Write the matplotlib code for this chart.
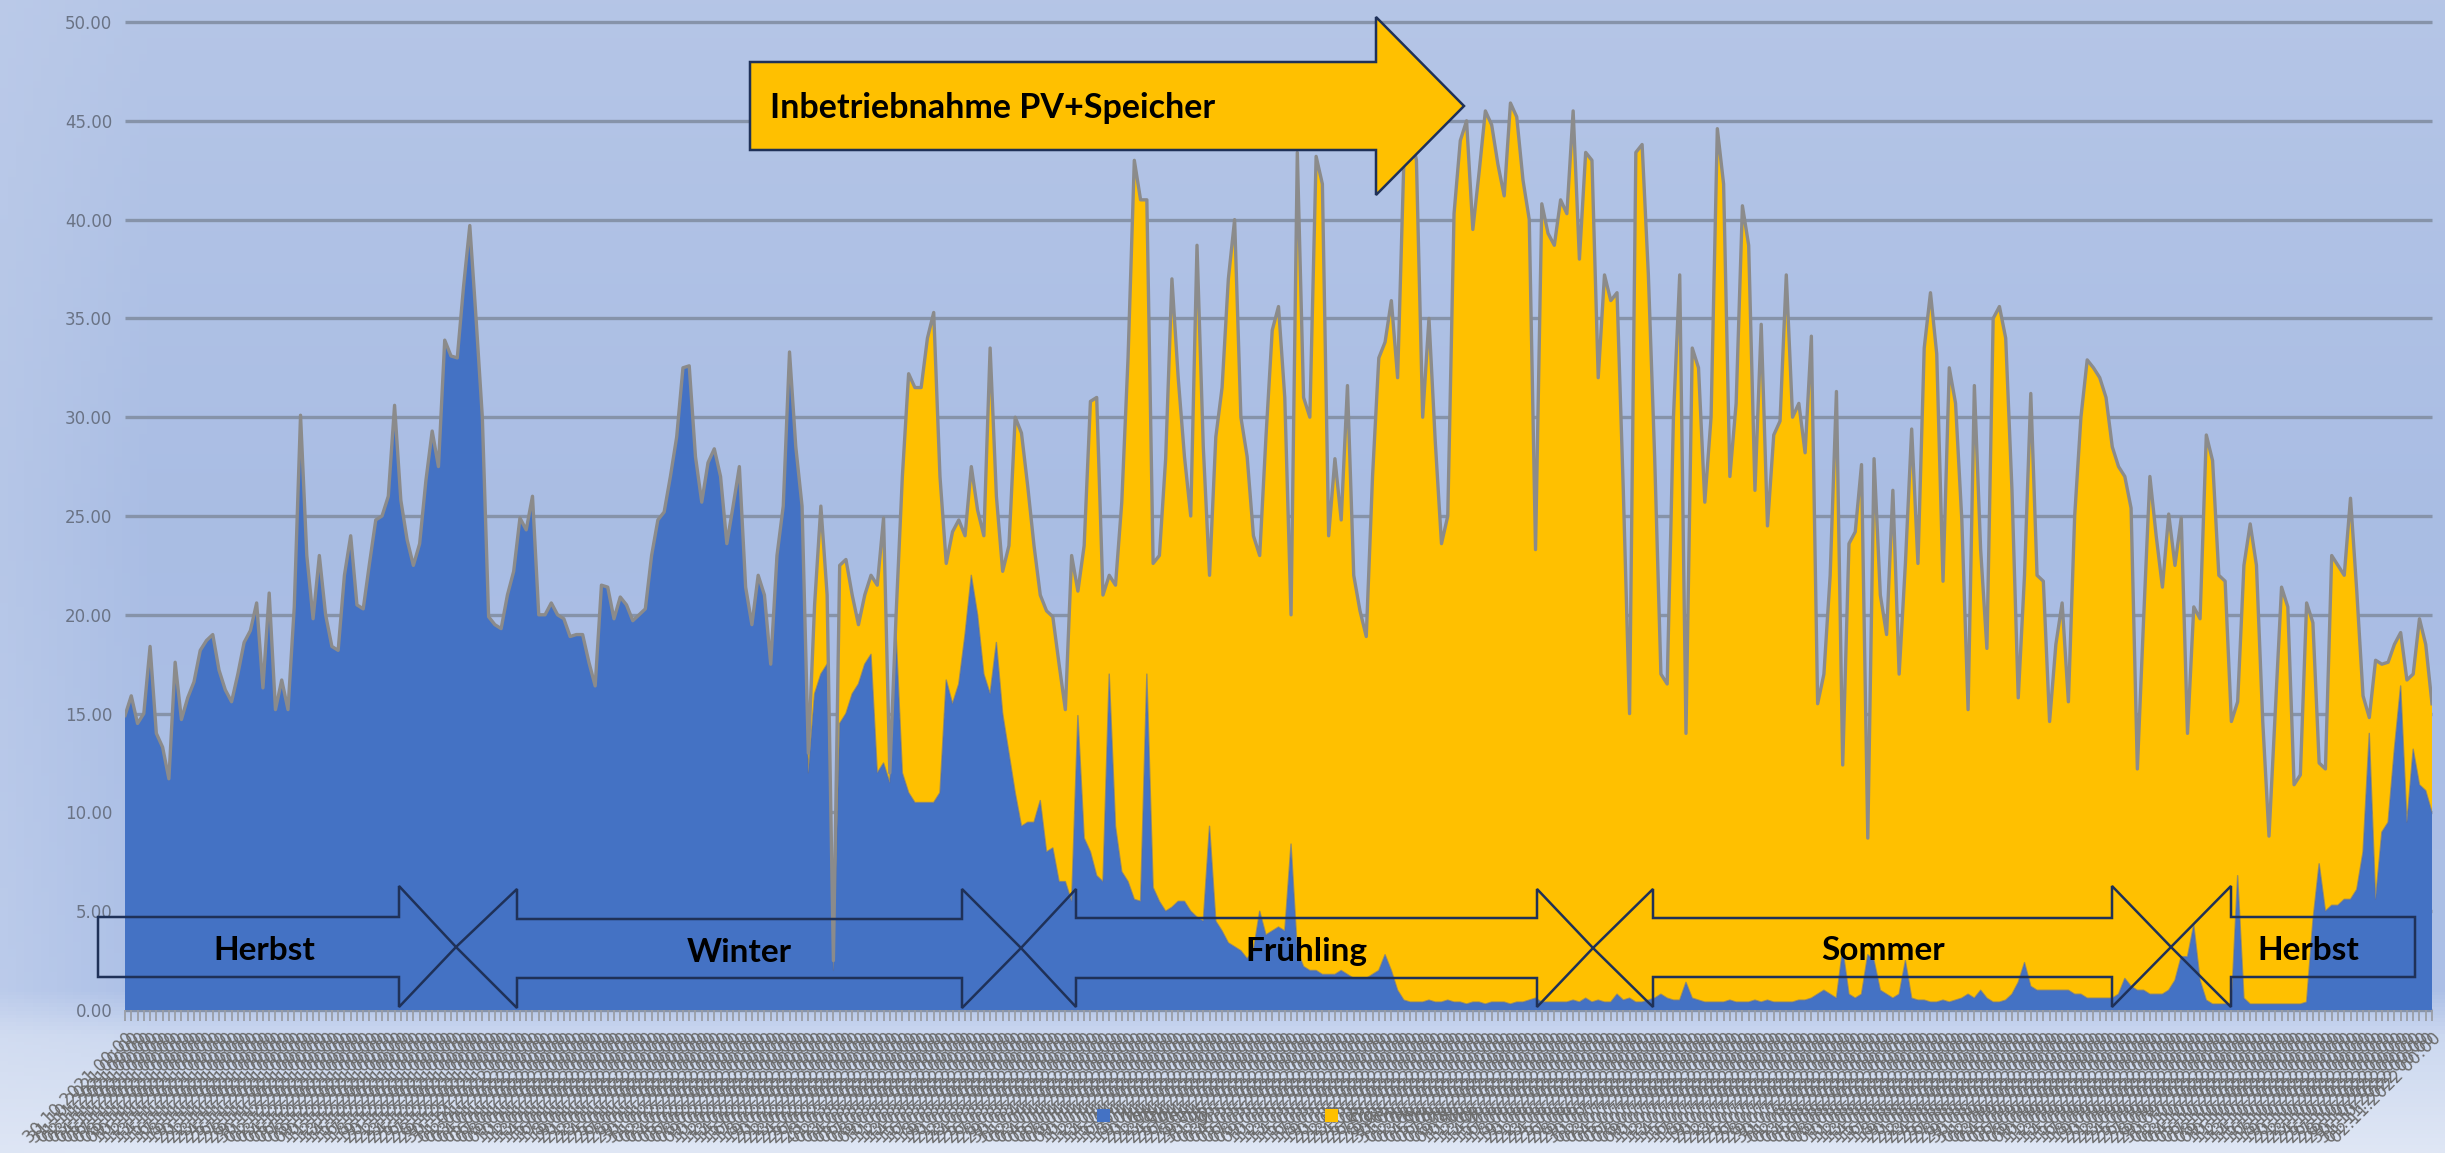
import numpy as np
import matplotlib
matplotlib.use("Agg")
import matplotlib.pyplot as plt
from matplotlib.patches import Polygon, Patch
import pandas as pd

# ---------------- data (daily values) ----------------
# total daily consumption (top outline = Netzbezug + PV)
gesamt = [
    14.9, 15.9, 14.5, 15.0, 18.4, 14.0, 13.3, 11.7, 17.6, 14.7,
    15.8, 16.6, 18.2, 18.7, 19.0, 17.2, 16.2, 15.6, 17.0, 18.6,
    19.2, 20.6, 16.3, 21.1, 15.2, 16.7, 15.2, 20.4, 30.1, 23.0,
    19.8, 23.0, 20.0, 18.4, 18.2, 22.0, 24.0, 20.5, 20.3, 22.6,
    24.8, 25.0, 26.0, 30.6, 25.8, 23.8, 22.5, 23.6, 26.8, 29.3,
    27.5, 33.9, 33.1, 33.0, 36.6, 39.7, 35.0, 30.0, 19.9, 19.5,
    19.3, 21.0, 22.2, 24.9, 24.3, 26.0, 20.0, 20.0, 20.6, 20.0,
    19.8, 18.9, 19.0, 19.0, 17.6, 16.4, 21.5, 21.4, 19.8, 20.9,
    20.5, 19.7, 20.0, 20.3, 23.0, 24.8, 25.2, 27.0, 29.0, 32.5,
    32.6, 28.0, 25.7, 27.7, 28.4, 27.0, 23.6, 25.5, 27.5, 21.4,
    19.5, 22.0, 21.0, 17.5, 23.0, 25.5, 33.3, 28.5, 25.5, 13.0,
    20.5, 25.5, 21.0, 2.5, 22.5, 22.8, 21.0, 19.5, 21.0, 22.0,
    21.5, 24.9, 12.0, 20.0, 27.0, 32.2, 31.5, 31.5, 34.0, 35.3,
    27.0, 22.6, 24.2, 24.8, 24.0, 27.5, 25.3, 24.0, 33.5, 26.0,
    22.2, 23.5, 30.0, 29.2, 26.5, 23.5, 21.0, 20.2, 19.9, 17.5,
    15.2, 23.0, 21.2, 23.5, 30.8, 31.0, 21.0, 22.0, 21.5, 25.7,
    33.0, 43.0, 41.0, 41.0, 22.6, 23.0, 27.9, 37.0, 32.0, 28.0,
    25.0, 38.7, 28.5, 22.0, 29.0, 31.5, 37.0, 40.0, 30.0, 28.0,
    24.0, 23.0, 29.0, 34.4, 35.6, 31.0, 20.0, 43.4, 31.0, 30.0,
    43.2, 41.8, 24.0, 27.9, 24.8, 31.6, 22.0, 20.2, 18.9, 27.0,
    33.0, 33.8, 35.9, 32.0, 43.0, 44.6, 43.0, 30.0, 35.0, 28.8,
    23.6, 25.0, 40.3, 44.0, 45.0, 39.5, 42.4, 45.5, 44.8, 42.8,
    41.2, 45.9, 45.2, 42.0, 40.0, 23.3, 40.8, 39.3, 38.7, 41.0,
    40.3, 45.5, 38.0, 43.4, 43.0, 32.0, 37.2, 35.9, 36.3, 26.3,
    15.0, 43.4, 43.8, 37.2, 28.0, 17.0, 16.5, 30.0, 37.2, 14.0,
    33.5, 32.5, 25.7, 30.0, 44.6, 41.8, 27.0, 30.7, 40.7, 38.7,
    26.3, 34.7, 24.5, 29.1, 29.8, 37.2, 30.0, 30.7, 28.2, 34.1,
    15.5, 17.0, 22.0, 31.3, 12.4, 23.6, 24.2, 27.6, 8.7, 27.9,
    21.0, 19.0, 26.3, 17.0, 22.6, 29.4, 22.6, 33.5, 36.3, 33.2,
    21.7, 32.5, 30.7, 24.8, 15.2, 31.6, 23.3, 18.3, 35.0, 35.6,
    34.0, 26.3, 15.8, 22.0, 31.2, 22.0, 21.7, 14.6, 18.5, 20.6,
    15.6, 25.0, 30.0, 32.9, 32.5, 32.0, 31.0, 28.5, 27.5, 27.0,
    25.4, 12.2, 19.8, 27.0, 24.0, 21.4, 25.1, 22.5, 24.9, 14.0,
    20.4, 19.8, 29.1, 27.8, 22.0, 21.7, 14.6, 15.6, 22.5, 24.6,
    22.5, 14.6, 8.8, 15.1, 21.4, 20.4, 11.4, 11.9, 20.6, 19.6,
    12.5, 12.2, 23.0, 22.5, 22.0, 25.9, 21.2, 15.9, 14.8, 17.7,
    17.5, 17.6, 18.5, 19.1, 16.7, 17.0, 19.8, 18.5, 15.5,
]

# grid consumption after commissioning of PV (day 109 onward)
netz_nach_pv = [
    12.0, 16.0, 17.0, 17.5, 2.0, 14.5, 15.0, 16.0, 16.5, 17.5, 18.0,
    12.0, 12.5, 11.5, 19.0, 12.0, 11.0, 10.5, 10.5, 10.5, 10.5,
    11.0, 16.7, 15.5, 16.5, 19.0, 22.0, 20.0, 17.0, 16.0, 18.6,
    15.0, 13.0, 11.0, 9.3, 9.5, 9.5, 10.6, 8.0, 8.2, 6.5,
    6.5, 5.5, 14.9, 8.7, 8.0, 6.8, 6.5, 17.0, 9.3, 7.0,
    6.5, 5.6, 5.5, 17.0, 6.2, 5.5, 5.0, 5.2, 5.5, 5.5,
    5.0, 4.7, 4.5, 9.3, 4.5, 4.0, 3.4, 3.2, 3.0, 2.6,
    3.0, 5.0, 3.8, 4.0, 4.2, 4.0, 8.4, 3.0, 2.2, 2.0,
    2.0, 1.8, 1.8, 1.8, 2.0, 1.8, 1.6, 1.6, 1.6, 1.8,
    2.0, 2.8, 2.0, 1.0, 0.5, 0.4, 0.4, 0.4, 0.5, 0.4,
    0.4, 0.5, 0.4, 0.4, 0.3, 0.4, 0.4, 0.3, 0.4, 0.4,
    0.4, 0.3, 0.4, 0.4, 0.5, 0.6, 0.4, 0.4, 0.4, 0.4,
    0.4, 0.5, 0.4, 0.6, 0.4, 0.5, 0.4, 0.4, 0.8, 0.5,
    0.6, 0.4, 0.4, 0.5, 0.6, 0.8, 0.6, 0.5, 0.5, 1.4,
    0.6, 0.5, 0.4, 0.4, 0.4, 0.4, 0.5, 0.4, 0.4, 0.4,
    0.5, 0.4, 0.5, 0.4, 0.4, 0.4, 0.4, 0.5, 0.5, 0.6,
    0.8, 1.0, 0.8, 0.6, 3.1, 0.8, 0.6, 0.8, 2.8, 2.5,
    1.0, 0.8, 0.6, 0.8, 2.5, 0.6, 0.5, 0.5, 0.4, 0.4,
    0.5, 0.4, 0.5, 0.6, 0.8, 0.6, 1.0, 0.6, 0.4, 0.4,
    0.5, 0.8, 1.4, 2.4, 1.2, 1.0, 1.0, 1.0, 1.0, 1.0,
    1.0, 0.8, 0.8, 0.6, 0.6, 0.6, 0.6, 0.6, 0.8, 1.6,
    1.2, 1.0, 1.0, 0.8, 0.8, 0.8, 1.0, 1.5, 2.7, 2.7,
    4.3, 1.5, 0.5, 0.3, 0.3, 0.3, 0.3, 6.8, 0.6, 0.3,
    0.3, 0.3, 0.3, 0.3, 0.3, 0.3, 0.3, 0.3, 0.4, 4.5,
    7.4, 5.0, 5.3, 5.3, 5.6, 5.6, 6.1, 8.0, 14.0, 5.6,
    9.0, 9.5, 13.2, 16.4, 9.5, 13.2, 11.4, 11.1, 10.0,
]

tage_ohne_pv = 109
netzbezug = gesamt[:tage_ohne_pv] + netz_nach_pv
pv_bezug = [g - n for g, n in zip(gesamt, netzbezug)]

datum = pd.date_range("2021-10-30", periods=len(gesamt), freq="D")
x_labels = [d.strftime("%d.%m.%Y 00:00") for d in datum]
y_ticks = [0, 5, 10, 15, 20, 25, 30, 35, 40, 45, 50]
legend_labels = ["Netzbezug", "Eigenverbrauch"]
season_labels = ["Herbst", "Winter", "Frühling", "Sommer", "Herbst"]
pv_label = "Inbetriebnahme PV+Speicher"

# ---------------- figure ----------------
W, H = 2445, 1153
fig = plt.figure(figsize=(W / 100, H / 100), dpi=100)

# background gradient
bg = fig.add_axes([0, 0, 1, 1], zorder=-10)
ny, nx = 300, 300
yy = np.linspace(0, 1, ny)[:, None]
xx = np.linspace(0, 1, nx)[None, :]
top = np.array([0.71, 0.775, 0.905])
mid = np.array([0.665, 0.742, 0.893])
low = np.array([0.80, 0.848, 0.94])
bot = np.array([0.875, 0.905, 0.96])
img = np.zeros((ny, nx, 3))
for c in range(3):
    prof = np.interp(yy[:, 0], [0, 0.45, 0.86, 0.90, 1.0],
                     [top[c], mid[c], mid[c] + 0.01, low[c], bot[c]])
    img[:, :, c] = prof[:, None]
left = np.clip(1 - xx / 0.06, 0, 1)[..., None] * 0.35
img = img + (np.array([0.86, 0.89, 0.955]) - img) * left * (0.4 + 0.6 * yy[..., None])
bg.imshow(np.clip(img, 0, 1), aspect="auto", extent=[0, 1, 0, 1], origin="upper")
bg.axis("off")

ax_l, ax_r, ax_t, ax_b = 125, 2432, 22, 1010
ax = fig.add_axes([ax_l / W, 1 - ax_b / H, (ax_r - ax_l) / W, (ax_b - ax_t) / H])
ax.set_facecolor("none")
xs = np.arange(len(gesamt))
ax.set_xlim(0, len(gesamt) - 1)
ax.set_ylim(0, 50)

ax.hlines(y_ticks, 0, len(gesamt) - 1, colors="#8693a9", lw=2.4, zorder=0.5, clip_on=False)

ax.stackplot(xs, netzbezug, pv_bezug, colors=["#4472c4", "#ffc000"], lw=0, zorder=1)
ax.plot(xs, netzbezug, color="#5a6c98", lw=1.0, alpha=0.6, zorder=2)
ax.plot(xs, gesamt, color="#8b8b8b", lw=2.4, zorder=3)

for s in ax.spines.values():
    s.set_visible(False)

ax.set_yticks(y_ticks)
ax.set_yticklabels([f"{v:.2f}" for v in y_ticks], fontsize=12, color="#6a7385")
ax.tick_params(axis="y", length=0, pad=9)

ax.set_xticks(xs)
ax.set_xticklabels(x_labels, rotation=45, ha="right", rotation_mode="anchor",
                   fontsize=12, color="#6c6c6c")
ax.tick_params(axis="x", length=8, width=1.3, color="#9a9ea6", pad=6)

# ---------------- shapes ----------------
def P(x, y):
    return (x / W, 1 - y / H)

edge = "#1f3158"
big = [(750, 62), (1376, 62), (1376, 17), (1464, 106), (1376, 195), (1376, 150), (750, 150)]
fig.patches.append(Polygon([P(*p) for p in big], closed=True, transform=fig.transFigure,
                           facecolor="#ffc000", edgecolor=edge, lw=1.8, zorder=5))
fig.text(*P(770, 108), pv_label, fontsize=24.5, fontweight="bold", family=["Lato", "DejaVu Sans"],
         ha="left", va="center", color="black", zorder=6)

seasons = [
    [(98, 917), (399, 917), (399, 886), (456, 947), (399, 1007), (399, 977), (98, 977)],
    [(456, 947), (517, 889), (517, 919), (962, 919), (962, 889), (1021, 948), (962, 1008),
     (962, 978), (517, 978), (517, 1008)],
    [(1021, 948), (1076, 889), (1076, 918), (1537, 918), (1537, 889), (1593, 948), (1537, 1007),
     (1537, 978), (1076, 978), (1076, 1007)],
    [(1593, 948), (1653, 889), (1653, 918), (2112, 918), (2112, 886), (2171, 947), (2112, 1007),
     (2112, 977), (1653, 977), (1653, 1007)],
    [(2171, 947), (2231, 886), (2231, 917), (2415, 917), (2415, 977), (2231, 977), (2231, 1007)],
]
season_pos = [(264, 950), (739, 952), (1306, 951), (1883, 951), (2308, 951)]
for poly, lab, pos in zip(seasons, season_labels, season_pos):
    fig.patches.append(Polygon([P(*p) for p in poly], closed=True, transform=fig.transFigure,
                               facecolor="none", edgecolor=edge, lw=1.8, zorder=5))
    fig.text(*P(*pos), lab, fontsize=24, fontweight="bold", family=["Lato", "DejaVu Sans"],
             ha="center", va="center", color="black", zorder=6)

handles = [Patch(facecolor="#4472c4"), Patch(facecolor="#ffc000")]
fig.legend(handles, legend_labels, loc="center", bbox_to_anchor=(1288 / W, 1 - 1116 / H),
           ncol=2, frameon=False, fontsize=12, labelcolor="#6e6e6e",
           handlelength=0.8, handleheight=0.8, handletextpad=0.6, columnspacing=7)

fig.savefig("out.png", dpi=100)
